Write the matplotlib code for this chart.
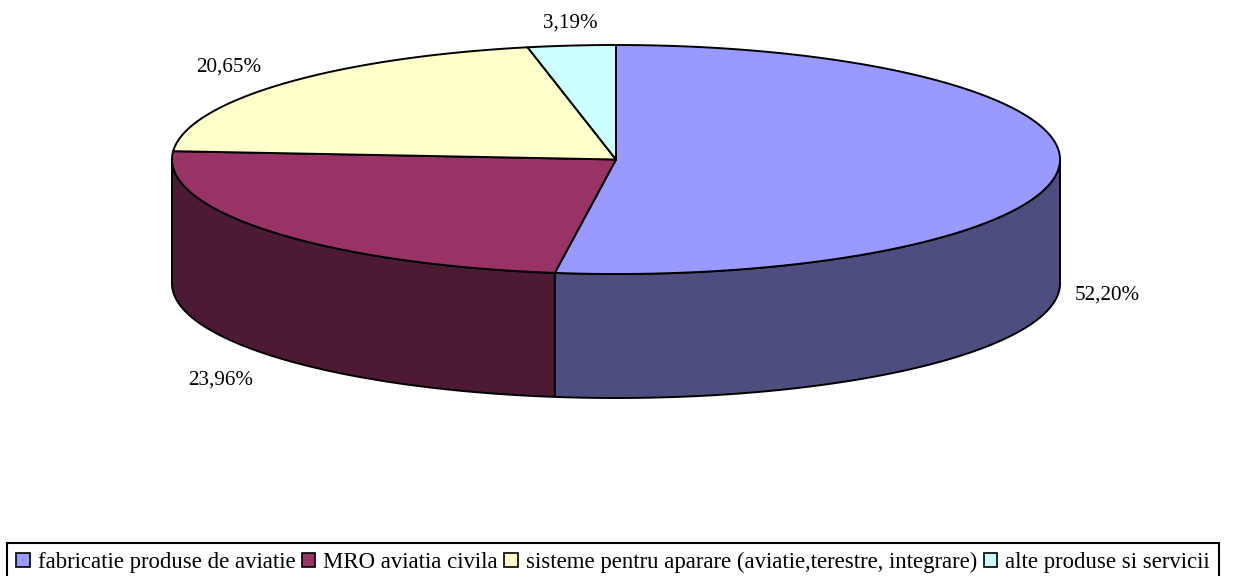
import numpy as np
import matplotlib
matplotlib.use("Agg")
import matplotlib.pyplot as plt
from matplotlib.patches import Patch

categories = ["fabricatie produse de aviatie", "MRO aviatia civila",
              "sisteme pentru aparare (aviatie,terestre, integrare)", "alte produse si servicii"]
values = [52.20, 23.96, 20.65, 3.19]
top_colors = ["#9999FF", "#993366", "#FFFFCC", "#CCFFFF"]
side_colors = ["#4D4D80", "#4D1A33", "#808066", "#668080"]

W, H = 1234, 576
cx, cy, a, b, depth = 616, 159.5, 444, 114.5, 124
label_xy = [(1107, 295), (221, 380), (229, 67), (570, 23)]

plt.rcParams["font.family"] = ["Liberation Serif", "DejaVu Serif"]
fig = plt.figure(figsize=(W / 100, H / 100), dpi=100)
ax = fig.add_axes([0, 0, 1, 1])
ax.set_xlim(0, W)
ax.set_ylim(H, 0)
ax.axis("off")

edges = np.concatenate([[0], np.cumsum(values)]) / np.sum(values) * 2 * np.pi


def pt(t, dy=0.0):
    return cx + a * np.sin(t), cy - b * np.cos(t) + dy


# side walls: only the front half (pi/2..3pi/2 clockwise from the top)
for i in range(len(values)):
    t0, t1 = max(edges[i], np.pi / 2), min(edges[i + 1], 3 * np.pi / 2)
    if t1 <= t0:
        continue
    t = np.linspace(t0, t1, 200)
    x, y = pt(t)
    xb, yb = pt(t, depth)
    ax.fill(np.r_[x, xb[::-1]], np.r_[y, yb[::-1]], facecolor=side_colors[i],
            edgecolor="black", linewidth=1.4, joinstyle="round")

# top face
for i in range(len(values)):
    t = np.linspace(edges[i], edges[i + 1], 300)
    x, y = pt(t)
    ax.fill(np.r_[cx, x], np.r_[cy, y], facecolor=top_colors[i],
            edgecolor="black", linewidth=1.4, joinstyle="round")

for v, (lx, ly) in zip(values, label_xy):
    ax.text(lx, ly, f"{v:.2f}%".replace(".", ","), ha="center", va="center",
            fontsize=15.2, color="black")

handles = [Patch(facecolor=c, edgecolor="black", linewidth=1.2) for c in top_colors]
leg = fig.legend(handles, categories, loc="lower left", ncol=4,
                 bbox_to_anchor=(7 / W, -6 / H, 1212 / W, 39 / H), mode="expand",
                 borderaxespad=0, fontsize=16.4, frameon=True, fancybox=False,
                 edgecolor="black", handlelength=0.6, handleheight=0.6,
                 handletextpad=0.35, columnspacing=0.25, borderpad=0.4)
leg.get_frame().set_linewidth(1.5)
leg.get_frame().set_alpha(1)

fig.savefig("out.png", dpi=100, facecolor="white")
